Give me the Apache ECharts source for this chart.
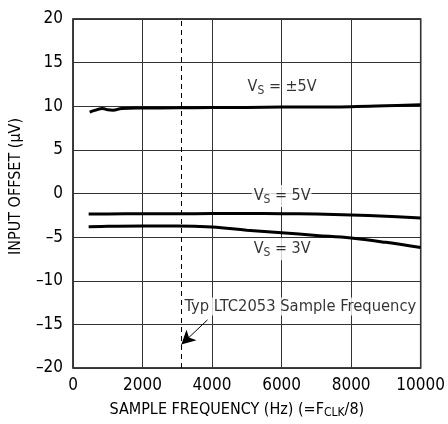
<!DOCTYPE html>
<html><head><meta charset="utf-8">
<script src="https://cdn.jsdelivr.net/npm/echarts@6/dist/echarts.min.js"></script>
<style>html,body{margin:0;padding:0;background:#fff}#c{width:448px;height:424px}</style>
</head><body><div id="c"></div>
<script>
// Data (Hz, µV)
const vsPM5 = [[480,9.33],[650,9.55],[850,9.75],[1000,9.6],[1150,9.55],[1400,9.75],[2000,9.8],[3000,9.82],[4000,9.85],[5000,9.87],[6000,9.9],[7000,9.92],[8000,9.95],[9000,10.05],[10000,10.17]];
const vs5 = [[450,-2.35],[1000,-2.34],[2000,-2.33],[3000,-2.32],[4000,-2.3],[5000,-2.3],[6000,-2.32],[7000,-2.36],[8000,-2.45],[9000,-2.6],[10000,-2.8]];
const vs3 = [[450,-3.8],[1000,-3.76],[2000,-3.72],[3000,-3.72],[4000,-3.85],[5000,-4.2],[6000,-4.5],[7000,-4.8],[8000,-5.1],[9000,-5.6],[10000,-6.2]];
const sampleFreq = 3100;
const xTicks = [0,2000,4000,6000,8000,10000];
const yTicks = [-20,-15,-10,-5,0,5,10,15,20];
const labels = [
  {pos:[6000,12.2], text:'V{s|S} = ±5V', align:'center', bg:null, size:16},
  {pos:[6000,-0.3], text:'V{s|S} = 5V', align:'center', bg:'#fff', size:16},
  {pos:[6000,-6.4], text:'V{s|S} = 3V', align:'center', bg:'#fff', size:16},
  {pos:[3150,-12.95], text:'Typ LTC2053 Sample Frequency', align:'left', bg:'#fff', size:16.4}
];
const arrow = [[3870,-14.48],[3116,-17.32]];

const FONT = "'DejaVu Sans Condensed','Liberation Sans',sans-serif";
const fmt = v => String(v).replace('-', '\u2013');
const chart = echarts.init(document.getElementById('c'), null, {renderer:'canvas'});
const lineSeries = (d) => ({type:'line', data:d, smooth:0.4, symbol:'none', lineStyle:{color:'#000', width:3}, z:5});
chart.setOption({
  animation:false,
  textStyle:{fontFamily:FONT},
  grid:{left:73, right:23, top:19, bottom:54, show:true, borderColor:'#000', borderWidth:1.5, containLabel:false},
  xAxis:{type:'value', min:xTicks[0], max:xTicks[xTicks.length-1], interval:2000,
    name:'SAMPLE FREQUENCY (Hz) (=F{s|CLK}/8)', nameLocation:'middle', nameGap:32,
    nameTextStyle:{fontFamily:FONT, fontSize:16, color:'#000', padding:[0,20,0,0], rich:{s:{fontFamily:FONT, fontSize:12, padding:[7,0,0,0], color:'#000'}}},
    axisLine:{show:false}, axisTick:{show:false},
    axisLabel:{fontFamily:FONT, fontSize:17, color:'#000', margin:9, formatter:fmt},
    splitLine:{show:true, lineStyle:{color:'#333', width:1}}},
  yAxis:{type:'value', min:yTicks[0], max:yTicks[yTicks.length-1], interval:5,
    name:'INPUT OFFSET (\u00b5V)', nameLocation:'middle', nameGap:49,
    nameTextStyle:{fontFamily:FONT, fontSize:16, color:'#000', padding:[0,0,0,14]},
    axisLine:{show:false}, axisTick:{show:false},
    axisLabel:{fontFamily:FONT, fontSize:17, color:'#000', margin:10, formatter:fmt},
    splitLine:{show:true, lineStyle:{color:'#333', width:1}}},
  series:[
    lineSeries(vsPM5), lineSeries(vs5), lineSeries(vs3),
    {type:'line', data:[], symbol:'none', silent:true,
      markLine:{silent:true, symbol:['none','none'], label:{show:false}, animation:false,
        lineStyle:{color:'#000', width:1, type:[5,4]},
        data:[{xAxis:sampleFreq}]}, z:3},
    {type:'line', data:[], symbol:'none', silent:true,
      markLine:{silent:true, symbol:['none','arrow'], symbolSize:[11,14], label:{show:false}, animation:false,
        lineStyle:{color:'#000', width:1, type:'solid'},
        data:[[{coord:arrow[0]},{coord:arrow[1]}]]}, z:6},
    {type:'scatter', symbolSize:0, silent:true, z:4,
      data:labels.map(l=>({value:l.pos, label:{show:true, position:'inside', formatter:l.text, align:l.align,
        backgroundColor:l.bg||'transparent', padding:[1,1,1,2],
        fontFamily:FONT, fontSize:l.size, color:'#000',
        rich:{s:{fontFamily:FONT, fontSize:12, padding:[8,0,0,0], color:'#000'}}}})) }
  ]
});
</script></body></html>
